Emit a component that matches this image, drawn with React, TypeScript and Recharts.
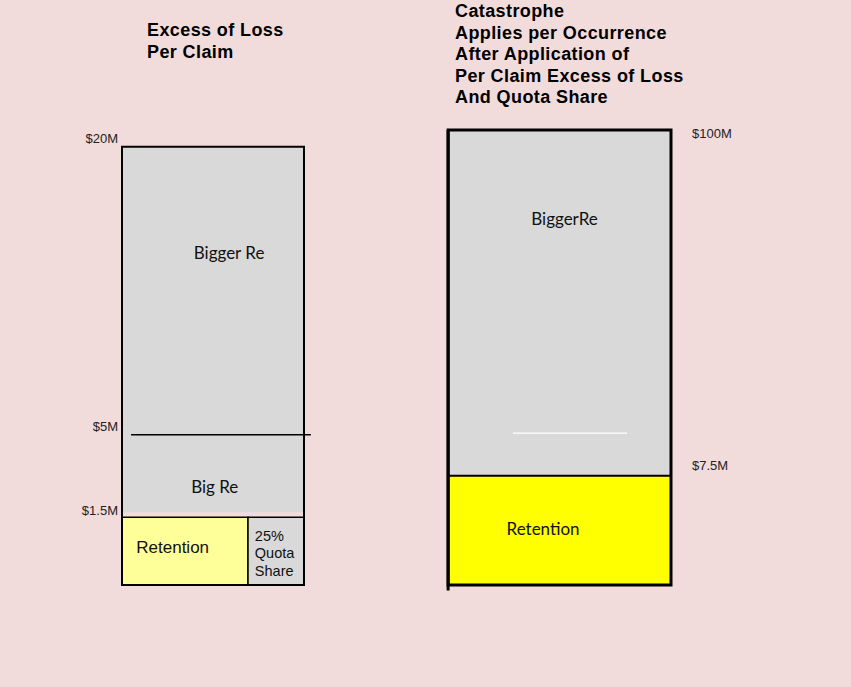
import React from 'react';
import {
  ComposedChart,
  XAxis,
  YAxis,
  ReferenceArea,
  ReferenceLine,
  Scatter,
} from 'recharts';

// Schematic layer diagram: x and y in diagram units (0-100)
// Left tower (Excess of Loss per claim)
const leftTowerX = [0, 33.15];
const leftSplitX = 22.95; // retention | quota share split
const leftLayerTops = { retention: 14.9, bigRe: 33.0, biggerRe: 96.3 };
const leftGreyBottom = 16.0;

// Right tower (Catastrophe)
const rightTowerX = [59.4, 100];
const rightLayerTops = { retention: 24.0, biggerRe: 100 };

// Axis tick labels (positions in diagram units)
const leftTickValues = [16.5, 34.9, 98.2];
const leftTickLabels = ['$1.5M', '$5M', '$20M'];
const rightTickValues = [26.2, 99.3];
const rightTickLabels = ['$7.5M', '$100M'];

// Box labels
const boxLabels = [
  { x: 19.5, y: 73.0, text: 'Bigger Re', kind: 'calibri', anchor: 'middle' },
  { x: 16.9, y: 21.5, text: 'Big Re', kind: 'calibri', anchor: 'middle' },
  { x: 2.6, y: 8.35, text: 'Retention', kind: 'arialBig', anchor: 'start' },
  { x: 24.2, y: 7.0, text: '25%|Quota|Share', kind: 'arialSmall', anchor: 'start' },
  { x: 80.6, y: 80.5, text: 'BiggerRe', kind: 'calibri', anchor: 'middle' },
  { x: 76.7, y: 12.3, text: 'Retention', kind: 'calibri', anchor: 'middle' },
];

const leftTitle = ['Excess of Loss', 'Per Claim'];
const rightTitle = [
  'Catastrophe',
  'Applies per Occurrence',
  'After Application of',
  'Per Claim Excess of Loss',
  'And Quota Share',
];

const BG = '#F2DCDB';
const GREY = '#D9D9D9';

const LabelShape = (props: any) => {
  const { cx, cy, payload } = props;
  if (cx == null || cy == null) return null;
  if (payload.kind === 'arialSmall') {
    const lines = payload.text.split('|');
    return (
      <text
        x={cx}
        y={cy}
        textAnchor="start"
        fontFamily="'Liberation Sans', Arial, sans-serif"
        fontSize={14.5}
        fill="#111"
      >
        {lines.map((l: string, i: number) => (
          <tspan key={i} x={cx} dy={i === 0 ? `${-17.5 + 5}` : '17.5'}>
            {l}
          </tspan>
        ))}
      </text>
    );
  }
  const isArial = payload.kind === 'arialBig';
  return (
    <text
      x={cx}
      y={cy}
      dy="0.36em"
      textAnchor={payload.anchor}
      fontFamily={isArial ? "'Liberation Sans', Arial, sans-serif" : "Lato, 'Open Sans', sans-serif"}
      fontSize={17}
      fill="#111"
    >
      {payload.text}
    </text>
  );
};

const titleStyle: React.CSSProperties = {
  position: 'absolute',
  fontFamily: "'Liberation Sans', Arial, sans-serif",
  fontWeight: 'bold',
  fontSize: 18,
  letterSpacing: '0.4px',
  color: '#000',
  whiteSpace: 'nowrap',
};

export default function App() {
  return (
    <div
      style={{
        position: 'absolute',
        left: 0,
        top: 0,
        width: 851,
        height: 687,
        background: BG,
        overflow: 'hidden',
      }}
    >
      <div style={{ ...titleStyle, left: 147, top: 19, lineHeight: '22px' }}>
        {leftTitle.map((t) => (
          <div key={t}>{t}</div>
        ))}
      </div>
      <div style={{ ...titleStyle, left: 455, top: 1, lineHeight: '21.5px' }}>
        {rightTitle.map((t) => (
          <div key={t}>{t}</div>
        ))}
      </div>
      <ComposedChart
        width={851}
        height={687}
        margin={{ top: 130, right: 100, bottom: 102, left: 62 }}
        data={boxLabels}
      >
        <XAxis type="number" dataKey="x" domain={[0, 100]} hide allowDataOverflow />
        <YAxis
          yAxisId="left"
          type="number"
          orientation="left"
          width={60}
          domain={[0, 100]}
          allowDataOverflow
          ticks={leftTickValues}
          tickFormatter={(v: number) => leftTickLabels[leftTickValues.indexOf(v)] ?? ''}
          axisLine={false}
          tickLine={false}
          tickSize={2}
          tickMargin={2}
          tick={{ fill: '#222', fontSize: 13, fontFamily: "'Liberation Sans', Arial, sans-serif" }}
        />
        <YAxis
          yAxisId="right"
          type="number"
          orientation="right"
          width={80}
          domain={[0, 100]}
          allowDataOverflow
          ticks={rightTickValues}
          tickFormatter={(v: number) => rightTickLabels[rightTickValues.indexOf(v)] ?? ''}
          axisLine={false}
          tickLine={false}
          tickSize={6}
          tickMargin={15}
          tick={{ fill: '#222', fontSize: 13, fontFamily: "'Liberation Sans', Arial, sans-serif" }}
        />

        {/* Left tower */}
        <ReferenceArea
          yAxisId="left"
          x1={leftTowerX[0]}
          x2={leftTowerX[1]}
          y1={leftGreyBottom}
          y2={leftLayerTops.biggerRe}
          fill={GREY}
          fillOpacity={1}
          stroke="none"
          ifOverflow="visible"
        />
        <ReferenceArea
          yAxisId="left"
          x1={leftTowerX[0]}
          x2={leftSplitX}
          y1={0}
          y2={leftLayerTops.retention}
          fill="#FFFF99"
          fillOpacity={1}
          stroke="#000"
          strokeWidth={1.5}
          ifOverflow="visible"
        />
        <ReferenceArea
          yAxisId="left"
          x1={leftSplitX}
          x2={leftTowerX[1]}
          y1={0}
          y2={leftLayerTops.retention}
          fill={GREY}
          fillOpacity={1}
          stroke="#000"
          strokeWidth={1.5}
          ifOverflow="visible"
        />
        <ReferenceArea
          yAxisId="left"
          x1={leftTowerX[0]}
          x2={leftTowerX[1]}
          y1={0}
          y2={leftLayerTops.biggerRe}
          fill="none"
          fillOpacity={0}
          stroke="#000"
          strokeWidth={2}
          ifOverflow="visible"
        />
        <ReferenceLine
          yAxisId="left"
          segment={[
            { x: 1.64, y: leftLayerTops.bigRe },
            { x: 34.4, y: leftLayerTops.bigRe },
          ]}
          stroke="#000"
          strokeWidth={1.5}
          ifOverflow="visible"
        />

        {/* Right tower */}
        <ReferenceArea
          yAxisId="left"
          x1={rightTowerX[0]}
          x2={rightTowerX[1]}
          y1={rightLayerTops.retention}
          y2={rightLayerTops.biggerRe}
          fill={GREY}
          fillOpacity={1}
          stroke="none"
          ifOverflow="visible"
        />
        <ReferenceArea
          yAxisId="left"
          x1={rightTowerX[0]}
          x2={rightTowerX[1]}
          y1={0}
          y2={rightLayerTops.retention}
          fill="#FFFF00"
          fillOpacity={1}
          stroke="#000"
          strokeWidth={2}
          ifOverflow="visible"
        />
        <ReferenceArea
          yAxisId="left"
          x1={rightTowerX[0]}
          x2={rightTowerX[1]}
          y1={0}
          y2={rightLayerTops.biggerRe}
          fill="none"
          fillOpacity={0}
          stroke="#000"
          strokeWidth={3}
          ifOverflow="visible"
        />
        <ReferenceLine
          yAxisId="left"
          segment={[
            { x: rightTowerX[0], y: -1.2 },
            { x: rightTowerX[0], y: rightLayerTops.biggerRe },
          ]}
          stroke="#000"
          strokeWidth={3}
          ifOverflow="visible"
        />
        <ReferenceLine
          yAxisId="left"
          segment={[
            { x: 71.2, y: 33.4 },
            { x: 92.0, y: 33.4 },
          ]}
          stroke="#fff"
          strokeWidth={1.2}
          ifOverflow="visible"
        />

        <Scatter
          yAxisId="left"
          dataKey="y"
          data={boxLabels}
          shape={LabelShape}
          isAnimationActive={false}
        />
      </ComposedChart>
    </div>
  );
}
